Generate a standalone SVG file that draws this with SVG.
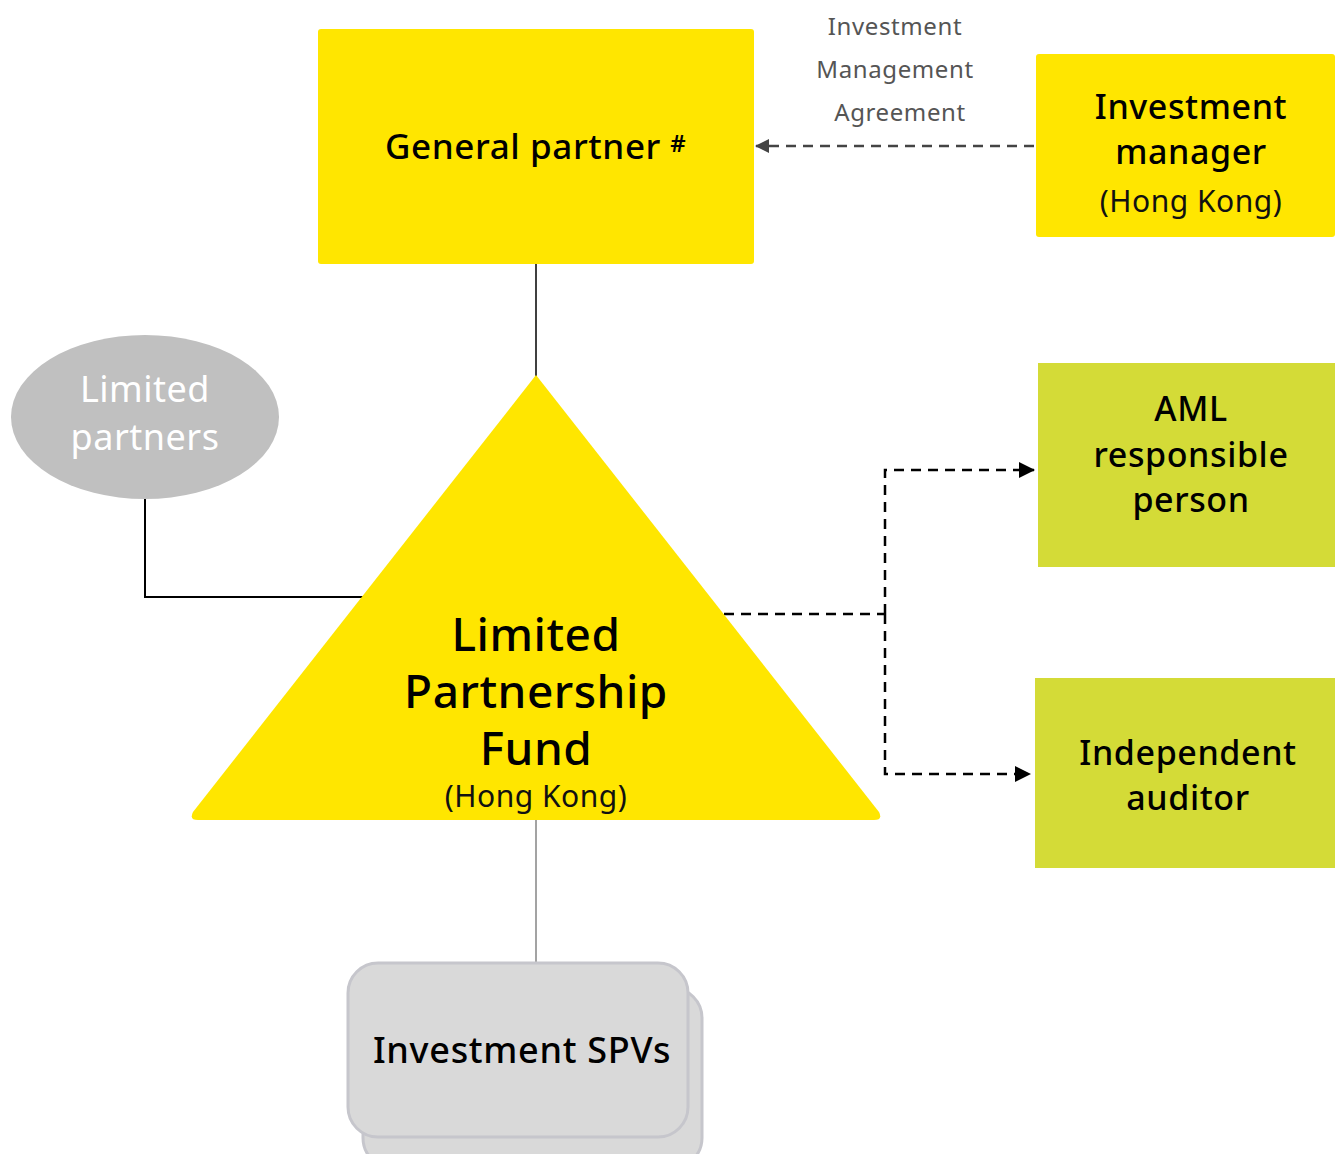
<svg xmlns="http://www.w3.org/2000/svg" width="1335" height="1154" viewBox="0 0 1335 1154">
  <style>
    text { font-family: "Noto Sans", "Liberation Sans", sans-serif; text-anchor: middle; }
    .title { font-size: 34px; font-weight: 500; fill: #000; letter-spacing: 0.6px; }
    .sub { font-size: 30px; fill: #111; letter-spacing: 0.5px; }
    .note { font-size: 24px; fill: #555; letter-spacing: 0.6px; }
    .yellow { fill: #FFE600; }
    .lime { fill: #D4DB37; }
    .solid { fill: none; stroke: #000; stroke-width: 2; }
    .dash { fill: none; stroke: #000; stroke-width: 2.5; stroke-dasharray: 10 7; }
  </style>
  <defs>
    <marker id="arrowGrey" markerWidth="14" markerHeight="14" refX="13" refY="7" orient="auto" markerUnits="userSpaceOnUse" viewBox="0 0 14 14">
      <path d="M0,0 L14,7 L0,14 z" fill="#444"/>
    </marker>
    <marker id="arrowBlack" markerWidth="16" markerHeight="16" refX="15" refY="8" orient="auto" markerUnits="userSpaceOnUse" viewBox="0 0 16 16">
      <path d="M0,0 L16,8 L0,16 z" fill="#000"/>
    </marker>
  </defs>

  <!-- connectors -->
  <g id="connectors">
    <line x1="536" y1="262" x2="536" y2="378" stroke="#000" stroke-width="1.5"/>
    <polyline class="solid" points="145,499 145,597 366,597"/>
    <line x1="536" y1="818" x2="536" y2="964" stroke="#666" stroke-width="1.2"/>
    <line x1="1034" y1="146" x2="756" y2="146" stroke="#444" stroke-width="2.5" stroke-dasharray="10 7" marker-end="url(#arrowGrey)"/>
    <text class="note" x="895" y="35">Investment</text>
    <text class="note" x="895" y="78">Management</text>
    <text class="note" x="900" y="121">Agreement</text>
    <polyline class="dash" points="724,614 885,614"/>
    <polyline class="dash" points="885,614 885,470 1034,470" marker-end="url(#arrowBlack)"/>
    <polyline class="dash" points="885,614 885,774 1030,774" marker-end="url(#arrowBlack)"/>
  </g>

  <g id="general-partner">
    <rect class="yellow" x="318" y="29" width="436" height="235" rx="3"/>
    <text class="title" x="523" y="159" style="font-size:35px">General partner</text>
    <text x="678" y="152" style="font-size:24px; font-weight:600; fill:#000">#</text>
  </g>

  <g id="investment-manager">
    <rect class="yellow" x="1036" y="54" width="299" height="183" rx="3"/>
    <text class="title" x="1191" y="119">Investment</text>
    <text class="title" x="1191" y="164">manager</text>
    <text class="sub" x="1191" y="212">(Hong Kong)</text>
  </g>

  <g id="limited-partners">
    <ellipse cx="145" cy="417" rx="134" ry="82" fill="#C0C0C0"/>
    <text x="145" y="402" style="font-size:36px; fill:#fff; letter-spacing:0.5px">Limited</text>
    <text x="145" y="450" style="font-size:36px; fill:#fff; letter-spacing:0.5px">partners</text>
  </g>

  <g id="fund">
    <path class="yellow" d="M536,375 L879,812 Q883,820 874,820 L198,820 Q189,820 193,812 Z"/>
    <text x="536" y="651" style="font-size:46px; font-weight:500; letter-spacing:0.5px">Limited</text>
    <text x="536" y="708" style="font-size:46px; font-weight:500; letter-spacing:0.5px">Partnership</text>
    <text x="536" y="765" style="font-size:46px; font-weight:500; letter-spacing:0.5px">Fund</text>
    <text class="sub" x="536" y="807">(Hong Kong)</text>
  </g>

  <g id="aml-person">
    <rect class="lime" x="1038" y="363" width="297" height="204"/>
    <text class="title" x="1191" y="421">AML</text>
    <text class="title" x="1191" y="467">responsible</text>
    <text class="title" x="1191" y="512">person</text>
  </g>

  <g id="auditor">
    <rect class="lime" x="1035" y="678" width="300" height="190"/>
    <text class="title" x="1188" y="765">Independent</text>
    <text class="title" x="1188" y="810">auditor</text>
  </g>

  <g id="investment-spvs">
    <rect x="363" y="988" width="339" height="180" rx="30" fill="#D9D9D9" stroke="#C6C6CC" stroke-width="3"/>
    <rect x="348" y="963" width="340" height="174" rx="30" fill="#D9D9D9" stroke="#C6C6CC" stroke-width="3"/>
    <text x="522" y="1063" style="font-size:36px; font-weight:500; letter-spacing:0.7px">Investment SPVs</text>
  </g>
</svg>
